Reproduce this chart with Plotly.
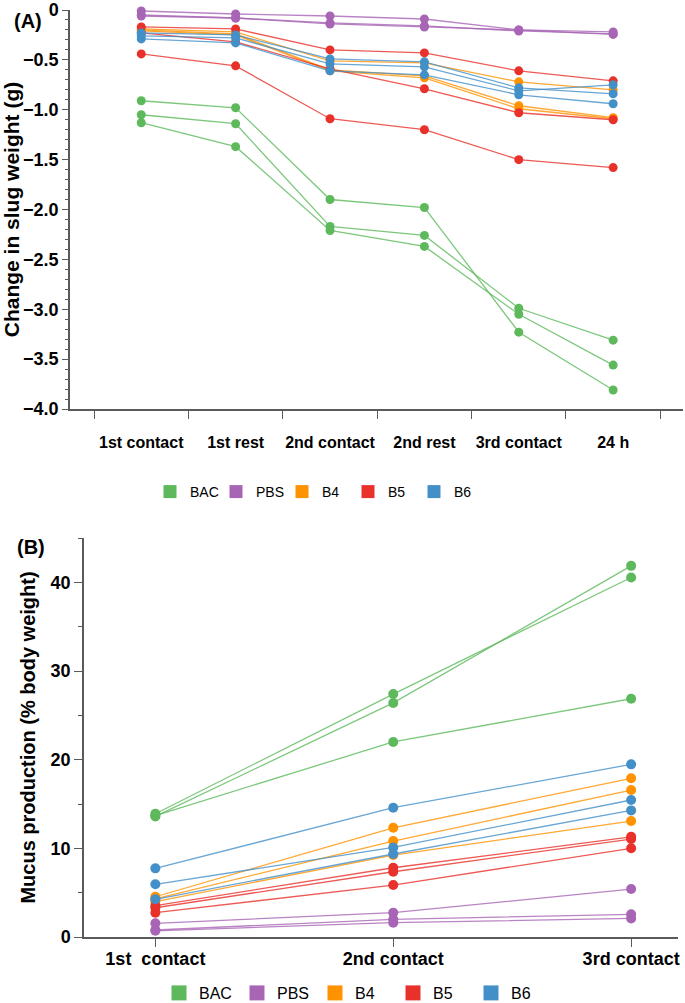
import plotly.graph_objects as go

# ---------------- data ----------------
stages_a = ["1st contact", "1st rest", "2nd contact", "2nd rest", "3rd contact", "24 h"]
yticks_a = [0, -0.5, -1.0, -1.5, -2.0, -2.5, -3.0, -3.5, -4.0]
yticklabels_a = ["0", "\u22120.5", "\u22121.0", "\u22121.5", "\u22122.0", "\u22122.5", "\u22123.0", "\u22123.5", "\u22124.0"]

groups = ["BAC", "PBS", "B4", "B5", "B6"]
colors = {"BAC": "#5DB95C", "PBS": "#A865B5", "B4": "#FF9200", "B5": "#E8312A", "B6": "#4390C8"}

# Panel A: change in slug weight (g), one list per slug
weight_bac = [
    [-0.91, -0.98, -1.90, -1.98, -3.23, -3.81],
    [-1.05, -1.14, -2.17, -2.26, -2.99, -3.31],
    [-1.13, -1.37, -2.21, -2.37, -3.05, -3.56],
]
weight_pbs = [
    [-0.01, -0.04, -0.06, -0.09, -0.20, -0.22],
    [-0.06, -0.08, -0.14, -0.17, -0.20, -0.245],
    [-0.05, -0.08, -0.13, -0.16, -0.21, -0.24],
]
weight_b4 = [
    [-0.19, -0.22, -0.51, -0.53, -0.72, -0.80],
    [-0.20, -0.24, -0.60, -0.66, -0.96, -1.08],
    [-0.21, -0.25, -0.61, -0.68, -0.99, -1.09],
]
weight_b5 = [
    [-0.17, -0.19, -0.40, -0.43, -0.61, -0.71],
    [-0.23, -0.32, -0.59, -0.79, -1.03, -1.10],
    [-0.44, -0.56, -1.09, -1.20, -1.50, -1.58],
]
weight_b6 = [
    [-0.23, -0.25, -0.49, -0.52, -0.78, -0.84],
    [-0.26, -0.28, -0.54, -0.57, -0.81, -0.75],
    [-0.29, -0.33, -0.61, -0.65, -0.85, -0.94],
]

# Panel B: mucus production (% body weight)
stages_b = ["1st\u00a0 contact", "2nd contact", "3rd contact"]
mucus_bac = [[13.9, 27.4, 40.55], [13.6, 26.4, 41.86], [13.7, 22.0, 26.87]]
mucus_pbs = [[1.54, 2.74, 5.41], [0.79, 1.99, 2.56], [0.70, 1.61, 2.10]]
mucus_b4 = [[4.54, 12.32, 17.9], [4.30, 10.82, 16.57], [4.00, 9.24, 13.08]]
mucus_b5 = [[3.53, 7.81, 11.3], [3.30, 7.36, 11.05], [2.74, 5.86, 10.0]]
mucus_b6 = [[7.74, 14.58, 19.47], [5.94, 10.10, 15.45], [4.25, 9.36, 14.28]]

weight_data = {"BAC": weight_bac, "PBS": weight_pbs, "B4": weight_b4, "B5": weight_b5, "B6": weight_b6}
mucus_data = {"BAC": mucus_bac, "PBS": mucus_pbs, "B4": mucus_b4, "B5": mucus_b5, "B6": mucus_b6}


def rgba(hex_color, a):
    h = hex_color.lstrip("#")
    r, g, b = int(h[0:2], 16), int(h[2:4], 16), int(h[4:6], 16)
    return f"rgba({r},{g},{b},{a})"


fig = go.Figure()

for g in groups:
    for series in weight_data[g]:
        fig.add_trace(go.Scatter(
            x=stages_a, y=series, mode="lines+markers", xaxis="x", yaxis="y",
            line=dict(color=rgba(colors[g], 0.8), width=1.3),
            marker=dict(color=colors[g], size=9),
            showlegend=False, cliponaxis=False, hoverinfo="skip"))
    for series in mucus_data[g]:
        fig.add_trace(go.Scatter(
            x=stages_b, y=series, mode="lines+markers", xaxis="x2", yaxis="y2",
            line=dict(color=rgba(colors[g], 0.8), width=1.3),
            marker=dict(color=colors[g], size=10),
            showlegend=False, cliponaxis=False, hoverinfo="skip"))

# legend entries
for g in groups:
    fig.add_trace(go.Scatter(x=[None], y=[None], mode="markers", xaxis="x", yaxis="y",
                             marker=dict(color=colors[g], size=13, symbol="square"),
                             name=g, legend="legend"))
    fig.add_trace(go.Scatter(x=[None], y=[None], mode="markers", xaxis="x2", yaxis="y2",
                             marker=dict(color=colors[g], size=15, symbol="square"),
                             name=g, legend="legend2"))

W, H = 685, 1003
axcol = "#5a5a5a"
font_b = "Liberation Sans, Arial, Helvetica, sans-serif"

fig.update_layout(
    width=W, height=H,
    margin=dict(l=0, r=0, t=0, b=0, autoexpand=False),
    paper_bgcolor="white", plot_bgcolor="white",
    font=dict(family=font_b, color="black"),
    xaxis=dict(
        domain=[70 / W, 683 / W], anchor="y", automargin=False,
        type="category", categoryorder="array", categoryarray=stages_a,
        range=[-0.755, 5.74], tickson="boundaries",
        ticks="outside", ticklen=8, tickwidth=1.3, tickcolor=axcol,
        showline=True, linecolor=axcol, linewidth=1.5,
        showgrid=False, zeroline=False, tickangle=0,
        tickfont=dict(size=16, family=font_b, weight="bold"),
        ticklabelstandoff=18,
    ),
    yaxis=dict(
        domain=[(H - 409) / H, (H - 10) / H], anchor="x", automargin=False,
        range=[-4.0, 0.0],
        tickvals=yticks_a, ticktext=yticklabels_a,
        ticks="outside", ticklen=6, tickwidth=1.3, tickcolor=axcol,
        minor=dict(dtick=0.1, tick0=0, ticks="outside", ticklen=3, tickcolor=axcol, tickwidth=1),
        showline=True, linecolor=axcol, linewidth=1.5,
        showgrid=False, zeroline=False,
        tickfont=dict(size=18, family=font_b, weight="bold"),
        title=dict(text="Change in slug weight (g)", font=dict(size=21, family=font_b, weight="bold"), standoff=8),
    ),
    xaxis2=dict(
        domain=[84 / W, 678 / W], anchor="y2", automargin=False,
        type="category", categoryorder="array", categoryarray=stages_b,
        range=[-0.3, 2.197],
        ticks="outside", ticklen=8, tickwidth=1.3, tickcolor=axcol,
        showline=True, linecolor=axcol, linewidth=1.5,
        showgrid=False, zeroline=False, tickangle=0,
        tickfont=dict(size=18, family=font_b, weight="bold"),
        ticklabelstandoff=-3,
    ),
    yaxis2=dict(
        domain=[(H - 937) / H, (H - 538) / H], anchor="x2", automargin=False,
        range=[0, 45],
        tickvals=[0, 10, 20, 30, 40],
        ticks="outside", ticklen=8, tickwidth=1.3, tickcolor=axcol,
        minor=dict(dtick=5, tick0=0, ticks="outside", ticklen=4, tickcolor=axcol, tickwidth=1),
        showline=True, linecolor=axcol, linewidth=1.5,
        showgrid=False, zeroline=False,
        tickfont=dict(size=18, family=font_b, weight="bold"),
        title=dict(text="Mucus production (% body weight)", font=dict(size=20, family=font_b, weight="bold"), standoff=10),
    ),
    legend=dict(
        orientation="h", x=150 / W, xanchor="left", y=(H - 492) / H, yanchor="middle",
        font=dict(size=14, family=font_b), itemsizing="trace",
        entrywidth=21, bgcolor="rgba(0,0,0,0)", itemclick=False,
    ),
    legend2=dict(
        orientation="h", x=159 / W, xanchor="left", y=(H - 993) / H, yanchor="middle",
        font=dict(size=16, family=font_b), itemsizing="trace",
        entrywidth=33, bgcolor="rgba(0,0,0,0)", itemclick=False,
    ),
    annotations=[
        dict(text="(A)", x=12 / W, y=(H - 21) / H, xref="paper", yref="paper",
             xanchor="left", yanchor="middle", showarrow=False,
             font=dict(size=20, family=font_b, weight="bold")),
        dict(text="(B)", x=15 / W, y=(H - 547) / H, xref="paper", yref="paper",
             xanchor="left", yanchor="middle", showarrow=False,
             font=dict(size=20, family=font_b, weight="bold")),
    ],
)

fig.write_html("out.html", config={"displayModeBar": False},
               post_script="document.body.style.margin='0px';document.body.style.overflow='hidden';")
